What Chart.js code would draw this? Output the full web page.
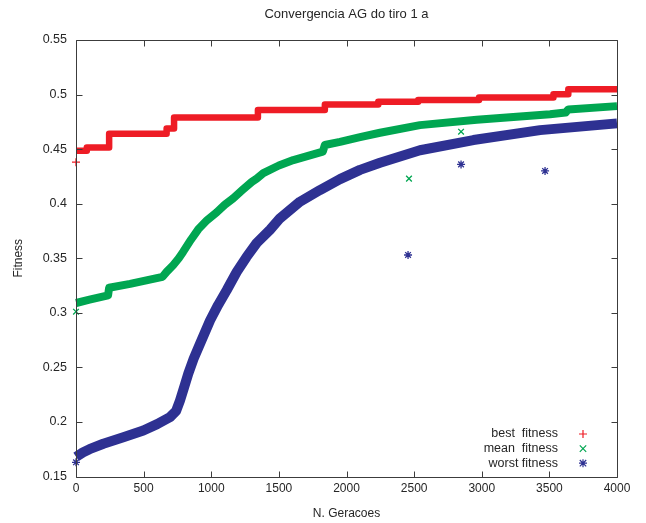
<!DOCTYPE html>
<html>
<head>
<meta charset="utf-8">
<title>Convergencia AG do tiro 1 a</title>
<script src="https://cdn.jsdelivr.net/npm/chart.js@4"></script>
<style>
  html, body { margin: 0; padding: 0; background: #ffffff; }
  #plot { display: block; }
</style>
</head>
<body>
<canvas id="plot" width="646" height="523"></canvas>
<script>
// ---- text ----
const chartTitle = 'Convergencia AG do tiro 1 a';
const xTitle = 'N. Geracoes';
const yTitle = 'Fitness';

// ---- axis ticks ----
const xTickValues = [0, 500, 1000, 1500, 2000, 2500, 3000, 3500, 4000];
const xTickLabels = ['0', '500', '1000', '1500', '2000', '2500', '3000', '3500', '4000'];
const yTickValues = [0.15, 0.2, 0.25, 0.3, 0.35, 0.4, 0.45, 0.5, 0.55];
const yTickLabels = ['0.15', '0.2', '0.25', '0.3', '0.35', '0.4', '0.45', '0.5', '0.55'];

// ---- best fitness (piecewise constant, value holds until the next generation listed) ----
const bestGen = [1, 80, 245, 670, 725, 1345, 1840, 2235, 2530, 2980, 3530, 3640, 4000];
const bestFit = [0.4485, 0.4516, 0.464, 0.469, 0.479, 0.4858, 0.491, 0.4934, 0.495, 0.4974, 0.5002, 0.5048, 0.5048];

// ---- mean fitness ----
const meanGen = [1, 100, 237, 245, 400, 640, 670, 718, 760, 793, 850, 904, 970, 1040, 1100, 1163, 1230, 1300, 1336, 1385, 1500, 1607, 1825, 1840, 1952, 2100, 2248, 2543, 2963, 3505, 3620, 3640, 4000];
const meanFit = [0.309, 0.312, 0.316, 0.323, 0.3265, 0.333, 0.3375, 0.3436, 0.350, 0.356, 0.367, 0.3765, 0.385, 0.392, 0.399, 0.405, 0.4125, 0.420, 0.423, 0.428, 0.435, 0.440, 0.4477, 0.4538, 0.4567, 0.461, 0.465, 0.472, 0.477, 0.482, 0.4835, 0.4864, 0.4894];

// ---- worst fitness ----
const worstGen = [1, 50, 100, 202, 350, 498, 600, 695, 740, 769, 800, 830, 870, 917, 991, 1050, 1114, 1188, 1260, 1336, 1434, 1508, 1656, 1804, 1952, 2100, 2248, 2543, 2938, 3431, 4000];
const worstFit = [0.168, 0.172, 0.175, 0.180, 0.186, 0.1922, 0.198, 0.2044, 0.210, 0.2197, 0.232, 0.2442, 0.258, 0.2717, 0.293, 0.307, 0.3207, 0.3374, 0.351, 0.364, 0.376, 0.3866, 0.4018, 0.4125, 0.4225, 0.431, 0.4375, 0.449, 0.4583, 0.4674, 0.4736];

// ---- isolated generations away from the main bands ----
const bestLoneGen = [0];
const bestLoneFit = [0.438];
const meanLoneGen = [0, 2462, 2847];
const meanLoneFit = [0.301, 0.423, 0.466];
const worstLoneGen = [0, 2455, 2847, 3468];
const worstLoneFit = [0.163, 0.353, 0.436, 0.430];

const RED = '#ee1c25';
const GREEN = '#00a651';
const BLUE = '#2e3192';
const INK = '#262626';
const FRAME = '#3c3c3c';
const FONT = 'Liberation Sans, Arial, Helvetica, sans-serif';

const pts = (g, v) => g.map((x, i) => ({ x: x, y: v[i] }));

// Title centred over the plotting box
const headingPlugin = {
  id: 'heading',
  afterDraw(chart) {
    const { ctx, chartArea: a } = chart;
    ctx.save();
    ctx.font = '13px ' + FONT;
    ctx.fillStyle = INK;
    ctx.textAlign = 'center';
    ctx.textBaseline = 'middle';
    ctx.fillText(chartTitle, (a.left + a.right) / 2, 14);
    ctx.restore();
  }
};

// Box frame with inward ticks on all four sides, drawn over the data
const framePlugin = {
  id: 'frame',
  afterDatasetsDraw(chart) {
    const { ctx, chartArea: a, scales: { x, y } } = chart;
    const L = Math.round(a.left) + 0.5, R = Math.round(a.right) + 0.5;
    const T = Math.round(a.top) + 0.5, B = Math.round(a.bottom) + 0.5;
    const len = 6;
    ctx.save();
    ctx.strokeStyle = FRAME;
    ctx.lineWidth = 1;
    ctx.beginPath();
    ctx.rect(L, T, R - L, B - T);
    xTickValues.forEach(v => {
      const px = Math.round(x.getPixelForValue(v)) + 0.5;
      ctx.moveTo(px, B); ctx.lineTo(px, B - len);
      ctx.moveTo(px, T); ctx.lineTo(px, T + len);
    });
    yTickValues.forEach(v => {
      const py = Math.round(y.getPixelForValue(v)) + 0.5;
      ctx.moveTo(L, py); ctx.lineTo(L + len, py);
      ctx.moveTo(R, py); ctx.lineTo(R - len, py);
    });
    ctx.stroke();
    ctx.restore();
  }
};

// Key in the lower right: right-aligned text with the marker after it
function drawMarker(ctx, style, cx, cy, r, color) {
  ctx.save();
  ctx.strokeStyle = color;
  ctx.lineWidth = 1.2;
  ctx.beginPath();
  if (style === 'cross' || style === 'star') {
    ctx.moveTo(cx - r, cy); ctx.lineTo(cx + r, cy);
    ctx.moveTo(cx, cy - r); ctx.lineTo(cx, cy + r);
  }
  if (style === 'crossRot' || style === 'star') {
    const d = r * 0.8;
    ctx.moveTo(cx - d, cy - d); ctx.lineTo(cx + d, cy + d);
    ctx.moveTo(cx - d, cy + d); ctx.lineTo(cx + d, cy - d);
  }
  ctx.stroke();
  ctx.restore();
}

const keyPlugin = {
  id: 'key',
  afterDraw(chart) {
    const { ctx } = chart;
    const rows = [
      { ds: 0, style: 'cross', color: RED },
      { ds: 1, style: 'crossRot', color: GREEN },
      { ds: 2, style: 'star', color: BLUE }
    ];
    const textRight = 558, markX = 583, y0 = 434, step = 14.6;
    ctx.save();
    ctx.font = '12.5px ' + FONT;
    ctx.fillStyle = INK;
    ctx.textAlign = 'right';
    ctx.textBaseline = 'middle';
    rows.forEach((r, i) => {
      const yy = y0 + i * step;
      ctx.fillText(chart.data.datasets[r.ds].label, textRight, yy);
      drawMarker(ctx, r.style, markX, yy, 4, r.color);
    });
    ctx.restore();
  }
};

const bandBase = { fill: false, pointRadius: 0, pointHoverRadius: 0, clip: false, borderCapStyle: 'butt', borderJoinStyle: 'round', tension: 0 };
const loneBase = { showLine: false, pointRadius: 4, pointHoverRadius: 4, pointBorderWidth: 1.3, clip: false };

new Chart(document.getElementById('plot'), {
  type: 'line',
  data: {
    datasets: [
      Object.assign({ label: 'best  fitness', data: pts(bestGen, bestFit), borderColor: RED, backgroundColor: RED, borderWidth: 6.5, stepped: true }, bandBase),
      Object.assign({ label: 'mean  fitness', data: pts(meanGen, meanFit), borderColor: GREEN, backgroundColor: GREEN, borderWidth: 8 }, bandBase),
      Object.assign({ label: 'worst fitness', data: pts(worstGen, worstFit), borderColor: BLUE, backgroundColor: BLUE, borderWidth: 10 }, bandBase),
      Object.assign({ label: 'best lone', data: pts(bestLoneGen, bestLoneFit), borderColor: RED, pointStyle: 'cross' }, loneBase),
      Object.assign({ label: 'mean lone', data: pts(meanLoneGen, meanLoneFit), borderColor: GREEN, pointStyle: 'crossRot' }, loneBase),
      Object.assign({ label: 'worst lone', data: pts(worstLoneGen, worstLoneFit), borderColor: BLUE, pointStyle: 'star', pointBorderWidth: 1.6 }, loneBase)
    ]
  },
  options: {
    responsive: false,
    animation: false,
    events: [],
    layout: { padding: { left: 0, right: 29, top: 40, bottom: 0 } },
    plugins: {
      legend: { display: false },
      tooltip: { enabled: false },
      title: { display: false }
    },
    scales: {
      x: {
        type: 'linear',
        min: 0,
        max: 4000,
        afterBuildTicks: s => { s.ticks = xTickValues.map(v => ({ value: v })); },
        afterFit: s => { s.height = 46.5; },
        grid: { display: false, drawTicks: false },
        border: { display: false },
        ticks: {
          autoSkip: false, maxRotation: 0, padding: 5, color: INK,
          font: { family: FONT, size: 12 },
          callback: (v, i) => xTickLabels[i]
        },
        title: { display: true, text: xTitle, color: INK, font: { family: FONT, size: 12 }, padding: { top: 0, bottom: 2 } }
      },
      y: {
        type: 'linear',
        min: 0.15,
        max: 0.55,
        afterBuildTicks: s => { s.ticks = yTickValues.map(v => ({ value: v })); },
        afterFit: s => { s.width = 76; },
        grid: { display: false, drawTicks: false },
        border: { display: false },
        ticks: {
          autoSkip: false, padding: 9, color: INK,
          font: { family: FONT, size: 12.5 },
          callback: (v, i) => yTickLabels[i]
        },
        title: { display: true, text: yTitle, color: INK, font: { family: FONT, size: 12 }, padding: { top: 11, bottom: 0 } }
      }
    }
  },
  plugins: [framePlugin, keyPlugin, headingPlugin]
});
</script>
</body>
</html>
